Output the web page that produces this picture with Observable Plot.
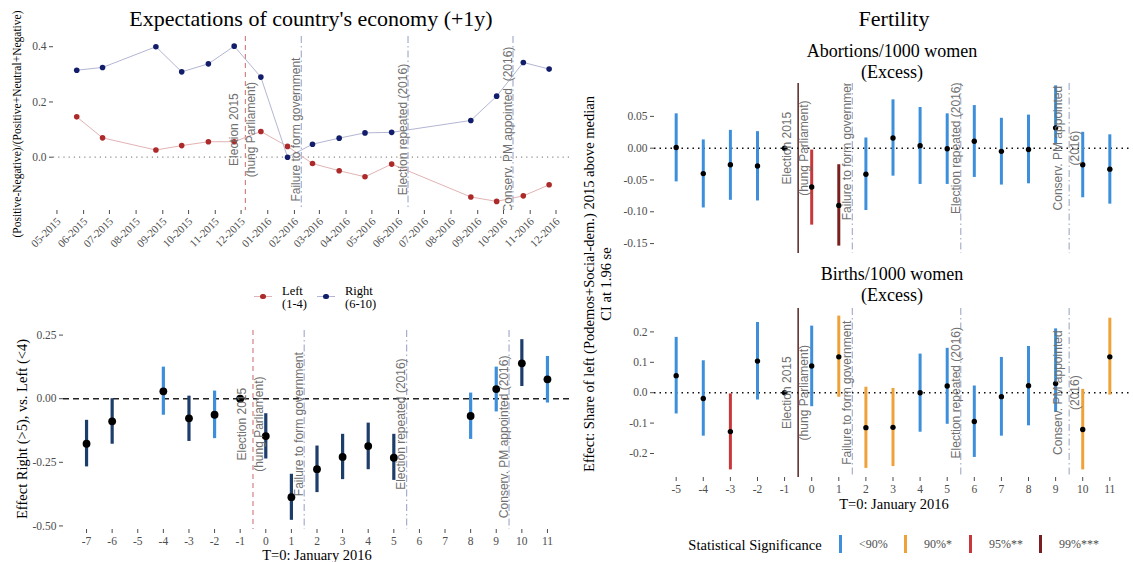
<!DOCTYPE html>
<html><head><meta charset="utf-8">
<script src="https://cdn.jsdelivr.net/npm/d3@7"></script>
<script src="https://cdn.jsdelivr.net/npm/@observablehq/plot@0.6"></script>
<style>
body{margin:0;background:#fff;}
#wrap{position:relative;width:1133px;height:562px;overflow:hidden;font-family:"Liberation Serif",serif;color:#000;}
.layer{position:absolute;left:0;top:0;}
.layer g[aria-label$="tick label"] text, .layer g[aria-label$="tick label"]{font-family:"Liberation Serif",serif;}
.t{position:absolute;white-space:nowrap;transform:translate(-50%,-50%);line-height:1.15;text-align:center;}
.r{transform:translate(-50%,-50%) rotate(-90deg);}
.l{position:absolute;white-space:nowrap;}
</style></head><body><div id="wrap"></div>
<script>
// ---------------- data ----------------
const monthLabels = ["05-2015","06-2015","07-2015","08-2015","09-2015","10-2015","11-2015","12-2015",
  "01-2016","02-2016","03-2016","04-2016","05-2016","06-2016","07-2016","08-2016","09-2016","10-2016","11-2016","12-2016"];
const expDates = ["2015-06-07","2015-07-07","2015-09-07","2015-10-07","2015-11-07","2015-12-07","2016-01-07","2016-02-07",
  "2016-03-07","2016-04-07","2016-05-07","2016-06-07","2016-09-07","2016-10-07","2016-11-07","2016-12-07"];
const expRight = [0.315,0.325,0.400,0.309,0.338,0.402,0.290,0.000,0.047,0.069,0.088,0.090,0.133,0.221,0.343,0.319];
const expLeft  = [0.146,0.070,0.026,0.042,0.056,0.056,0.093,0.039,-0.023,-0.049,-0.071,-0.025,-0.144,-0.160,-0.140,-0.100];

const eventDates = ["2015-12-20","2016-02-23","2016-06-26","2016-10-26"];
const eventT = [-0.5, 1.5, 5.5, 9.5];
const labelsTL = ["Election 2015\n(hung Parliament)","Failure to form government","Election repeated (2016)","Conserv. PM appointed  (2016)"];
const labelsBL = ["Election 2015\n(hung Parliament)","Failure to form government","Election repeated (2016)","Conserv. PM appointed (2016)"];
const labelsR  = ["Election 2015\n(hung Parliament)","Failure to form government","Election repeated (2016)","Conserv. PM appointed\n(2016)"];
const labelYTL = [0.1, 0.1, 0.1, 0.1];
const labelYBL = [-0.1, -0.1, -0.1, -0.15];
const labelYR  = [0, 0, 0, 0];

const effT   = [-7,-6,-4,-3,-2,-1,0,1,2,3,4,5,8,9,10,11];
const effEst = [-0.177,-0.089,0.029,-0.077,-0.063,0,-0.147,-0.387,-0.277,-0.229,-0.186,-0.232,-0.068,0.038,0.139,0.076];
const effLo  = [-0.268,-0.179,-0.065,-0.168,-0.157,null,-0.237,-0.478,-0.369,-0.318,-0.279,-0.321,-0.160,-0.052,0.048,-0.017];
const effHi  = [-0.085,0.000,0.124,0.010,0.030,null,-0.059,-0.297,-0.186,-0.140,-0.096,-0.140,0.022,0.124,0.232,0.166];
const effSig = ["sig","sig","ns","sig","ns",null,"sig","sig","sig","sig","sig","sig","ns","ns","sig","ns"];

const fertT  = [-5,-4,-3,-2,-1,0,1,2,3,4,5,6,7,8,9,10,11];
const absEst = [0.001,-0.040,-0.026,-0.028,0,-0.061,-0.090,-0.041,0.016,0.004,-0.001,0.011,-0.005,-0.002,0.032,-0.026,-0.033];
const absLo  = [-0.053,-0.094,-0.082,-0.083,null,-0.121,-0.154,-0.098,-0.044,-0.057,-0.057,-0.046,-0.058,-0.056,0.005,-0.078,-0.088];
const absHi  = [0.054,0.013,0.028,0.026,null,-0.003,-0.026,0.016,0.076,0.064,0.054,0.067,0.047,0.052,0.098,0.025,0.021];
const absSig = ["<90%","<90%","<90%","<90%",null,"95%**","99%***","<90%","<90%","<90%","<90%","<90%","<90%","<90%","<90%","<90%","<90%"];
const birEst = [0.056,-0.019,-0.128,0.104,0,0.088,0.118,-0.115,-0.114,0.000,0.022,-0.095,-0.013,0.023,0.030,-0.121,0.118];
const birLo  = [-0.070,-0.143,-0.254,-0.024,null,-0.046,-0.015,-0.249,-0.243,-0.130,-0.104,-0.213,-0.143,-0.109,-0.065,-0.254,-0.008];
const birHi  = [0.182,0.105,-0.004,0.231,null,0.219,0.252,0.018,0.014,0.127,0.146,0.022,0.116,0.152,0.210,0.011,0.245];
const birSig = ["<90%","<90%","95%**","<90%",null,"<90%","90%*","90%*","90%*","<90%","<90%","<90%","<90%","<90%","<90%","90%*","90%*"];

const sigLevels = ["<90%","90%*","95%**","99%***"];
const sigColors = ["#3d8fdb","#f0a23a","#c8383a","#7a1f1f"];
const effColors = {sig: "#1d3d6b", ns: "#3d8fdb"};

// ---------------- helpers ----------------
const W = 1133, H = 562;
const wrap = document.getElementById("wrap");
const fix = s => s.replace("\u2212", "-");
const f1 = d => fix(d3.format(".1f")(d));
const f2 = d => fix(d3.format(".2f")(d));
const SERIF = "Liberation Serif";
const baseStyle = {fontFamily: SERIF, fontSize: "11px", color: "#4d4d4d", background: "transparent"};
const annColor = "#707070";
const dashOther = "7,3,1.5,3";
function add(el){ el.classList.add("layer"); wrap.appendChild(el); }
function frameOpts(x0, x1, y0, y1){ return {width: W, height: H, marginLeft: x0, marginRight: W - x1, marginTop: y0, marginBottom: H - y1}; }
function textMarks(rows, xKey, dxTwo, dxOne){
  return [
    Plot.text(rows.filter(d => d.label.includes("\n")), {x: xKey, y: "y", text: "label", rotate: -90, dx: dxTwo, fill: annColor,
      fontFamily: "Liberation Sans", fontSize: 12, lineHeight: 1.4, clip: true}),
    Plot.text(rows.filter(d => !d.label.includes("\n")), {x: xKey, y: "y", text: "label", rotate: -90, dx: dxOne, fill: annColor,
      fontFamily: "Liberation Sans", fontSize: 12, clip: true})
  ];
}

// ---------------- top-left: expectations ----------------
const monthTicks = monthLabels.map(s => new Date(Date.UTC(+s.slice(3), +s.slice(0,2) - 1, 15)));
const expRows = expDates.map((d, i) => ({date: new Date(d), Right: expRight[i], Left: expLeft[i]}));
const evRowsTL = eventDates.map((d, i) => ({date: new Date(d), label: labelsTL[i], y: labelYTL[i], first: i === 0}));
const monthRows = monthTicks.map((d, i) => ({date: d, label: monthLabels[i]}));
add(Plot.plot({
  ...frameOpts(53, 571, 36, 210),
  style: baseStyle,
  x: {type: "utc", domain: [new Date("2015-05-11"), new Date("2017-01-02")]},
  y: {domain: [-0.193, 0.437]},
  marks: [
    Plot.ruleY([0], {stroke: "#8a8a8a", strokeWidth: 1.2, strokeDasharray: "1.2,4"}),
    Plot.ruleX(evRowsTL.filter(d => d.first), {x: "date", stroke: "#d08486", strokeWidth: 1.2, strokeDasharray: "5,4"}),
    Plot.ruleX(evRowsTL.filter(d => !d.first), {x: "date", stroke: "#a6aecd", strokeWidth: 1.2, strokeDasharray: dashOther}),
    Plot.line(expRows, {x: "date", y: "Left", stroke: "#e2b3b4", strokeWidth: 1}),
    Plot.line(expRows, {x: "date", y: "Right", stroke: "#b3b6d3", strokeWidth: 1}),
    Plot.dot(expRows, {x: "date", y: "Left", r: 2.8, fill: "#ad2a2a"}),
    Plot.dot(expRows, {x: "date", y: "Right", r: 2.8, fill: "#121d6b"}),
    ...textMarks(evRowsTL, "date", -4, -5),
    Plot.axisY({ticks: [0, 0.2, 0.4], tickFormat: f1, tickSize: 4, tickPadding: 3, label: null, fontSize: 11.5, fontFamily: SERIF}),
    Plot.axisX({ticks: monthTicks, tickFormat: () => "", tickSize: 4, label: null}),
    Plot.text(monthRows, {x: "date", frameAnchor: "bottom", text: "label", rotate: -45, textAnchor: "end", lineAnchor: "middle",
      dx: 2, dy: 9, fontSize: 11, fontFamily: SERIF, fill: "#4d4d4d"})
  ]
}));

// ---------------- bottom-left: effect right vs left ----------------
const effRows = effT.map((t, i) => ({t, est: effEst[i], lo: effLo[i], hi: effHi[i], sig: effSig[i]}));
const evRowsBL = eventT.map((t, i) => ({t, label: labelsBL[i], y: labelYBL[i], first: i === 0}));
add(Plot.plot({
  ...frameOpts(63, 570, 330, 529),
  style: baseStyle,
  x: {domain: [-7.9, 11.9]},
  y: {domain: [-0.514, 0.268]},
  marks: [
    Plot.ruleY([0], {stroke: "#222", strokeWidth: 1.6, strokeDasharray: "6,4"}),
    Plot.ruleX(evRowsBL.filter(d => d.first), {x: "t", stroke: "#d08486", strokeWidth: 1.2, strokeDasharray: "5,4"}),
    Plot.ruleX(evRowsBL.filter(d => !d.first), {x: "t", stroke: "#a6aecd", strokeWidth: 1.2, strokeDasharray: dashOther}),
    ...Object.keys(effColors).map(k => Plot.ruleX(effRows.filter(d => d.sig === k), {x: "t", y1: "lo", y2: "hi", stroke: effColors[k], strokeWidth: 3.2})),
    Plot.dot(effRows, {x: "t", y: "est", r: 3.9, fill: "#000"}),
    ...textMarks(evRowsBL, "t", -4, -5),
    Plot.axisY({ticks: [-0.5, -0.25, 0, 0.25], tickFormat: f2, tickSize: 4, tickPadding: 3, label: null, fontSize: 11.5, fontFamily: SERIF}),
    Plot.axisX({ticks: d3.range(-7, 12), tickFormat: d => fix(String(d)), tickSize: 4, tickPadding: 3, label: null, fontSize: 11.5, fontFamily: SERIF})
  ]
}));

// ---------------- right panels ----------------
function fertPanel(est, lo, hi, sig, y0, y1, yDomain, yTicks, fmt, showX){
  const rows = fertT.map((t, i) => ({t, est: est[i], lo: lo[i], hi: hi[i], sig: sig[i]}));
  const ev = eventT.map((t, i) => ({t, label: labelsR[i], y: labelYR[i], first: i === 0}));
  const marks = [
    Plot.ruleY([0], {stroke: "#111", strokeWidth: 1.6, strokeDasharray: "1.5,4"}),
    Plot.ruleX(ev.filter(d => d.first), {x: "t", stroke: "#4a1414", strokeWidth: 1.4}),
    Plot.ruleX(ev.filter(d => !d.first), {x: "t", stroke: "#a9b1c8", strokeWidth: 1.2, strokeDasharray: dashOther}),
    ...sigLevels.map((k, j) => Plot.ruleX(rows.filter(d => d.sig === k), {x: "t", y1: "lo", y2: "hi", stroke: sigColors[j], strokeWidth: 3})),
    Plot.dot(rows, {x: "t", y: "est", r: 2.7, fill: "#000"}),
    ...textMarks(ev, "t", -4, -5),
    Plot.axisY({ticks: yTicks, tickFormat: fmt, tickSize: 4, tickPadding: 3, label: null, fontSize: 11.5, fontFamily: SERIF})
  ];
  if (showX) marks.push(Plot.axisX({ticks: fertT, tickFormat: d => fix(String(d)), tickSize: 4, tickPadding: 3, label: null, fontSize: 11.5, fontFamily: SERIF}));
  else marks.push(Plot.axisX({ticks: [], label: null}));
  add(Plot.plot({
    ...frameOpts(654, 1131, y0, y1),
    style: baseStyle,
    x: {domain: [-5.8, 11.8]},
    y: {domain: yDomain},
    marks
  }));
}
fertPanel(absEst, absLo, absHi, absSig, 83, 253, [-0.1656, 0.1017], [-0.15, -0.1, -0.05, 0, 0.05], f2, false);
fertPanel(birEst, birLo, birHi, birSig, 308, 477, [-0.279, 0.277], [-0.2, -0.1, 0, 0.1, 0.2], f1, true);

// ---------------- titles, axis titles, legends ----------------
function label(text, x, y, size, extra = "", cls = "t"){
  const d = document.createElement("div");
  d.className = cls;
  d.style.cssText = `left:${x}px;top:${y}px;font-size:${size}px;${extra}`;
  d.innerHTML = text;
  wrap.appendChild(d);
  return d;
}
label("Expectations of country's economy (+1y)", 311, 19, 22);
label("Fertility", 894, 19, 22);
label("Abortions/1000 women<br>(Excess)", 892, 62, 18, "line-height:21px;");
label("Births/1000 women<br>(Excess)", 892, 285, 18, "line-height:21px;");
label("(Positive-Negative)/(Positive+Neutral+Negative)", 18, 124, 11.5, "", "t r");
label("Effect Right (&gt;5), vs. Left (&lt;4)", 22, 429, 14.5, "", "t r");
label("Effect: Share of left (Podemos+Social-dem.) 2015 above median<br>CI at 1.96 se", 598, 284, 14.5, "line-height:17px;", "t r");
label("T=0: January 2016", 317, 555, 14.5);
label("T=0: January 2016", 894, 504, 14.5);

// left legend (series)
const seriesNames = ["Left<br>(1-4)", "Right<br>(6-10)"];
const seriesDot = ["#ad2a2a", "#121d6b"];
const seriesLine = ["#e2b3b4", "#b3b6d3"];
const seriesX = [263, 326];
seriesNames.forEach((n, i) => {
  const ln = document.createElement("div");
  ln.className = "l";
  ln.style.cssText = `left:${seriesX[i]-9}px;top:296px;width:18px;height:1px;background:${seriesLine[i]};`;
  wrap.appendChild(ln);
  const dt = document.createElement("div");
  dt.className = "l";
  dt.style.cssText = `left:${seriesX[i]-2.8}px;top:293.7px;width:5.6px;height:5.6px;border-radius:50%;background:${seriesDot[i]};`;
  wrap.appendChild(dt);
  label(n, seriesX[i] + 19, 285, 12.5, "line-height:13px;text-align:left;transform:none;", "l");
});

// right legend (significance)
label("Statistical Significance", 755, 545, 14.5);
const keyX = [840, 905, 970, 1040];
sigLevels.forEach((k, i) => {
  const ln = document.createElement("div");
  ln.className = "l";
  ln.style.cssText = `left:${keyX[i]-1.5}px;top:535px;width:3px;height:18px;background:${sigColors[i]};`;
  wrap.appendChild(ln);
  label(k.replace("<", "&lt;"), keyX[i] + 19, 537, 12, "color:#4d4d4d;transform:none;", "l");
});
</script></body></html>
